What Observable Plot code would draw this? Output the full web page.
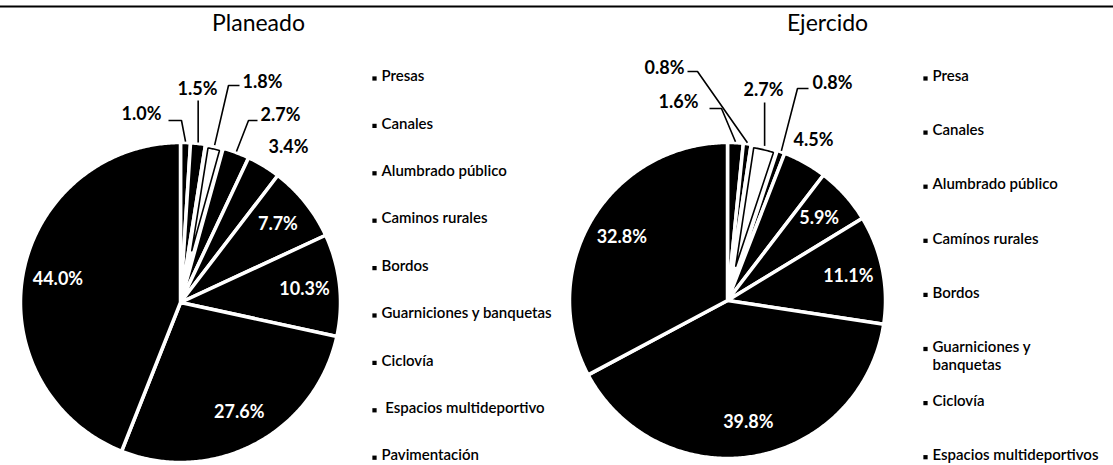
<!DOCTYPE html>
<html><head><meta charset="utf-8">
<script src="https://cdn.jsdelivr.net/npm/d3@7"></script>
<script src="https://cdn.jsdelivr.net/npm/@observablehq/plot@0.6"></script>
<style>body{margin:0;background:#fff}</style>
</head><body><div id="chart"></div>
<script>
// ---- data ----
const titles = ["Planeado", "Ejercido"];
const categoriesPlaneado = ["Presas", "Canales", "Alumbrado público", "Caminos rurales", "Bordos",
  "Guarniciones y banquetas", "Ciclovía", "\u00a0Espacios multideportivo", "Pavimentación"];
const valuesPlaneado = [1.0, 1.5, 1.8, 2.7, 3.4, 7.7, 10.3, 27.6, 44.0];
const categoriesEjercido = ["Presa", "Canales", "Alumbrado público", "Camínos rurales", "Bordos",
  "Guarniciones y\nbanquetas", "Ciclovía", "Espacios multideportivos"];
const valuesEjercido = [1.6, 0.8, 2.7, 0.8, 4.5, 5.9, 11.1, 39.8, 32.8];

// ---- layout (positions & styles) ----
const W = 1113, H = 465;
const FONT = "Lato, 'Open Sans', sans-serif";
const layout = [
  {cats: categoriesPlaneado, vals: valuesPlaneado, cx: 180, cy: 302, r: 160, titleX: 258,
   legendX: 374, legendY0: 77, legendStep: 47.4, whiteIdx: [2], inK: 0.78,
   outside: {
     0: {tx: 161, ty: 114, anchor: "end", path: [[181, 120], [168, 120]]},
     1: {tx: 197, ty: 89, anchor: "middle", path: [[null, 100]]},
     2: {tx: 242, ty: 82, anchor: "start", path: [[228, 85], [239, 85]]},
     3: {tx: 260, ty: 115, anchor: "start", path: [[248, 120], [257, 120]]},
     4: {tx: 268, ty: 147, anchor: "start", path: null}
   }},
  {cats: categoriesEjercido, vals: valuesEjercido, cx: 727, cy: 300, r: 158, titleX: 827,
   legendX: 925, legendY0: 77, legendStep: 54.1, whiteIdx: [2], inK: 0.78,
   outside: {
     0: {tx: 698, ty: 102, anchor: "end", path: [[721, 108], [709, 108]]},
     1: {tx: 684, ty: 68, anchor: "end", path: [[697, 71], [687, 71]]},
     2: {tx: 763, ty: 90, anchor: "middle", path: [[null, 102]]},
     3: {tx: 812, ty: 83, anchor: "start", path: [[797, 88], [808, 88]]},
     4: {tx: 793, ty: 140, anchor: "start", path: null}
   }}
];

// ---- build geometry from the data ----
const slices = [], outlines = [], leaders = [], labels = [], legend = [], legendDots = [];
const pt = (p, a, rr) => [p.cx + rr * Math.sin(a), p.cy - rr * Math.cos(a)];
layout.forEach((p, pi) => {
  const total = d3.sum(p.vals);
  let cum = 0;
  p.vals.forEach((v, i) => {
    const a0 = cum / total * 2 * Math.PI; cum += v;
    const a1 = cum / total * 2 * Math.PI;
    const key = `${pi}-${i}`;
    const isWhite = p.whiteIdx.includes(i);
    const n = Math.max(2, Math.ceil((a1 - a0) / 0.01));
    const fill = isWhite ? "white" : "black";
    slices.push({key, x: p.cx, y: p.cy, fill});
    for (let k = 0; k <= n; k++) {
      const [x, y] = pt(p, a0 + (a1 - a0) * k / n, p.r);
      slices.push({key, x, y, fill});
    }
    slices.push({key, x: p.cx, y: p.cy, fill});
    if (isWhite) {
      const d = 3, half = (a1 - a0) / 2, mid = (a0 + a1) / 2;
      const apex = pt(p, mid, d / Math.sin(half));
      const rr = p.r - d, da = Math.asin(d / rr);
      outlines.push({key, x: apex[0], y: apex[1]});
      for (let k = 0; k <= n; k++) {
        const [x, y] = pt(p, a0 + da + (a1 - a0 - 2 * da) * k / n, rr);
        outlines.push({key, x, y});
      }
      outlines.push({key, x: apex[0], y: apex[1]});
    }
    const mid = (a0 + a1) / 2;
    const text = v.toFixed(1) + "%";
    const o = p.outside[i];
    if (o) {
      labels.push({x: o.tx, y: o.ty, text, anchor: o.anchor, fill: "black"});
      if (o.path) {
        const s = pt(p, mid, p.r + 1);
        leaders.push({key, x: s[0], y: s[1]});
        o.path.forEach(q => leaders.push({key, x: q[0] == null ? s[0] : q[0], y: q[1]}));
      }
    } else {
      const [x, y] = pt(p, mid, p.r * p.inK);
      labels.push({x, y, text, anchor: "middle", fill: "white"});
    }
  });
  p.cats.forEach((c, i) => {
    const y = p.legendY0 + i * p.legendStep;
    legend.push({x: p.legendX + 7, y: y - 9, text: c});
    legendDots.push({x: p.legendX, y: y + 1});
  });
});
const titleData = titles.map((t, i) => ({x: layout[i].titleX, y: 23, text: t}));

const textMark = (anchor) => Plot.text(labels.filter(d => d.anchor === anchor), {
  x: "x", y: "y", text: "text", fill: "fill", textAnchor: anchor,
  fontSize: 18, fontWeight: "bold", fontFamily: FONT
});

const chart = Plot.plot({
  width: W, height: H, margin: 0,
  x: {domain: [0, W], range: [0, W], axis: null},
  y: {domain: [0, H], range: [0, H], axis: null},
  style: {background: "white"},
  marks: [
    Plot.ruleY([6], {stroke: "black", strokeWidth: 2}),
    Plot.line(slices, {x: "x", y: "y", z: "key", fill: "fill", stroke: "white",
      strokeWidth: 3.5, strokeLinejoin: "round", curve: "linear"}),
    Plot.line(outlines, {x: "x", y: "y", z: "key", fill: "none", stroke: "black",
      strokeWidth: 1.6, strokeLinejoin: "miter", curve: "linear"}),
    Plot.line(leaders, {x: "x", y: "y", z: "key", stroke: "black", strokeWidth: 1.6,
      strokeLinejoin: "miter", strokeLinecap: "butt", curve: "linear"}),
    textMark("start"), textMark("middle"), textMark("end"),
    Plot.text(titleData, {x: "x", y: "y", text: "text", fontSize: 23, fontFamily: FONT, fill: "black"}),
    Plot.dot(legendDots, {x: "x", y: "y", symbol: "square", r: 2.4, fill: "black", stroke: "none"}),
    Plot.text(legend, {x: "x", y: "y", text: "text", textAnchor: "start", lineAnchor: "top",
      lineHeight: 1.2, fontSize: 15, fontWeight: 600, fontFamily: FONT, fill: "black"})
  ]
});
document.getElementById("chart").appendChild(chart);
</script>
</body></html>
